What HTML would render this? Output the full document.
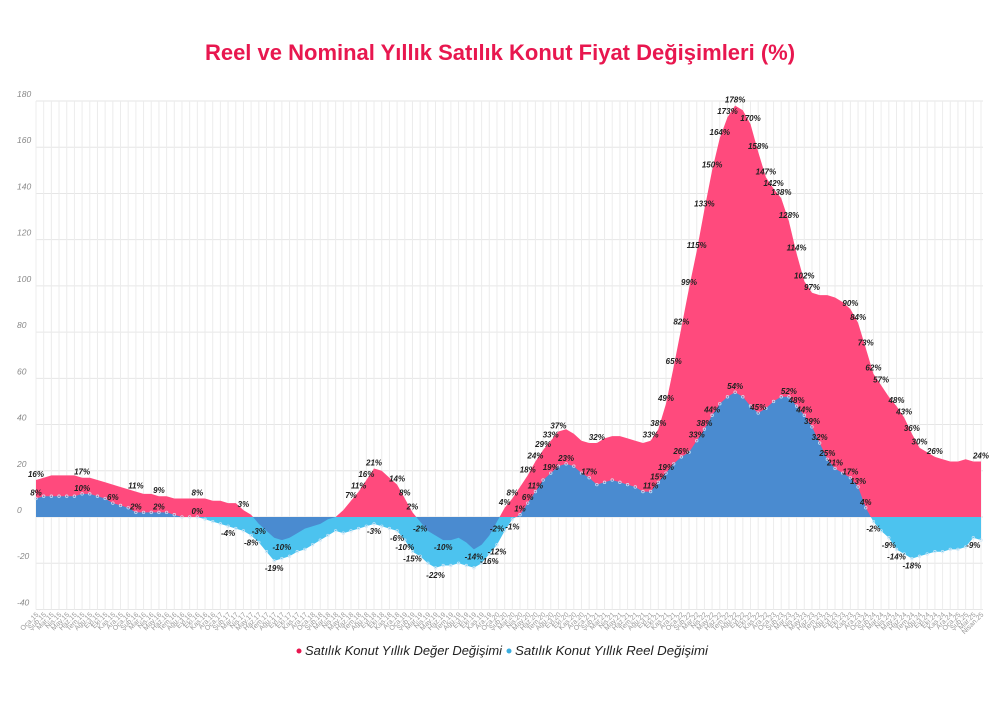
<!DOCTYPE html>
<html><head><meta charset="utf-8">
<style>
body{margin:0;background:#fff;width:1000px;height:721px;overflow:hidden;font-family:"Liberation Sans",sans-serif;}
</style></head><body>
<svg id="s" width="1000" height="721" xmlns="http://www.w3.org/2000/svg">
<text x="500" y="60" text-anchor="middle" font-family="Liberation Sans" font-weight="bold" font-size="22" fill="#e8174f">Reel ve Nominal Yıllık Satılık Konut Fiyat Değişimleri (%)</text>
<circle cx="299" cy="651" r="2.5" fill="#e8174f"/>
<text x="305" y="655" font-size="12.5" font-style="italic" fill="#222" textLength="197" lengthAdjust="spacingAndGlyphs">Satılık Konut Yıllık Değer Değişimi</text>
<circle cx="509" cy="651" r="2.5" fill="#3aaee0"/>
<text x="515" y="655" font-size="12.5" font-style="italic" fill="#222" textLength="193" lengthAdjust="spacingAndGlyphs">Satılık Konut Yıllık Reel Değişimi</text>
</svg>
<script>
var N=[16,17,18,18,18,18,17,17,16,15,14,13,12,11,10,10,9,9,8,8,8,8,8,7,7,6,6,3,1,-3,-6,-9,-10,-9,-7,-5,-4,-3,-1,0,3,7,11,16,21,20,17,14,8,2,-2,-6,-8,-10,-10,-9,-11,-14,-12,-8,-2,4,8,13,18,24,29,33,37,38,36,33,32,32,34,35,35,34,33,32,33,38,49,65,82,99,115,133,150,164,173,178,176,170,158,147,142,138,128,114,102,97,96,96,95,93,90,84,73,62,57,52,48,43,36,30,28,26,25,24,24,25,24,24];
var R=[8,9,9,9,9,9,10,10,9,8,6,5,4,2,2,2,2,2,1,0,0,0,-1,-2,-3,-4,-5,-6,-8,-11,-15,-19,-18,-17,-15,-14,-12,-10,-8,-6,-7,-6,-5,-4,-3,-4,-5,-6,-10,-15,-17,-20,-22,-21,-21,-20,-21,-22,-20,-16,-12,-6,-1,1,6,11,16,19,22,23,22,19,17,14,15,16,15,14,13,11,11,15,19,23,26,28,33,38,44,49,52,54,52,48,45,47,50,52,52,48,44,39,32,25,21,19,17,13,4,-2,-6,-9,-14,-16,-18,-17,-16,-15,-15,-14,-14,-13,-9,-10];
var x0=36,dx=(981-36)/123,y0=517,k=2.311;
function X(i){return x0+i*dx}function Y(v){return y0-v*k}
var h='';
for(var v=-40;v<=180;v+=20){h+='<line x1="'+x0+'" x2="983" y1="'+Y(v)+'" y2="'+Y(v)+'" stroke="#e6e6e6" stroke-width="1"/>';
h+='<text x="17" y="'+(Y(v)-4)+'" font-size="8.5" font-style="italic" fill="#888">'+v+'</text>';}
for(var i=0;i<124;i++)h+='<line x1="'+X(i)+'" x2="'+X(i)+'" y1="'+Y(180)+'" y2="'+Y(-40)+'" stroke="#ececec" stroke-width="1"/>';
function area(d){var p='M'+X(0)+','+y0;for(var i=0;i<d.length;i++)p+=' L'+X(i).toFixed(1)+','+Y(d[i]).toFixed(1);p+=' L'+X(d.length-1)+','+y0+'Z';return p;}
h+='<defs><clipPath id="pos"><rect x="0" y="0" width="1000" height="'+y0+'"/></clipPath><clipPath id="neg"><rect x="0" y="'+y0+'" width="1000" height="300"/></clipPath></defs>';
h+='<path d="'+area(N)+'" fill="#ff4a7d" clip-path="url(#pos)"/>';
h+='<path d="'+area(R)+'" fill="#4a8bd0" clip-path="url(#pos)"/>';
h+='<path d="'+area(R)+'" fill="#4cc3ef" clip-path="url(#neg)"/>';
h+='<path d="'+area(N)+'" fill="#4a8bd0" clip-path="url(#neg)"/>';
for(var i=0;i<124;i++){h+='<circle cx="'+X(i)+'" cy="'+Y(R[i])+'" r="1.3" fill="none" stroke="#cfe6f7" stroke-width="0.7"/>';}
var m=['Oca','Şub','Mar','Nis','May','Haz','Tem','Ağu','Eyl','Eki','Kas','Ara'];
for(var i=0;i<124;i++){var lb=m[i%12]+'.'+(15+Math.floor(i/12));if(i==123)lb='Nisan.25';
h+='<text transform="translate('+(X(i)+3)+',615) rotate(-45)" text-anchor="end" font-size="7" fill="#999">'+lb+'</text>';}
var LN=[0,6,13,16,21,27,29,32,41,42,43,44,47,48,49,50,53,57,60,61,62,64,65,66,67,68,73,80,81,82,83,84,85,86,87,88,89,90,91,93,94,95,96,97,98,99,100,101,106,107,108,109,110,112,113,114,115,117,123];
var LR=[0,6,10,13,16,21,25,28,31,44,47,48,49,52,59,60,62,63,64,65,67,69,72,80,81,82,84,86,87,88,91,94,98,99,100,101,102,103,104,106,107,108,109,111,112,114,122];
function lab(d,L,off){L.forEach(function(i){var v=d[i];var y=v>=0?Y(v)-3:Y(v)+10;
h+='<text x="'+(X(i)+off)+'" y="'+y+'" text-anchor="middle" font-size="8" font-weight="bold" font-style="italic" fill="#222">'+v+'%</text>';});}
lab(N,LN,0);lab(R,LR,0);
document.getElementById('s').insertAdjacentHTML('afterbegin',h);
</script>
</body></html>
